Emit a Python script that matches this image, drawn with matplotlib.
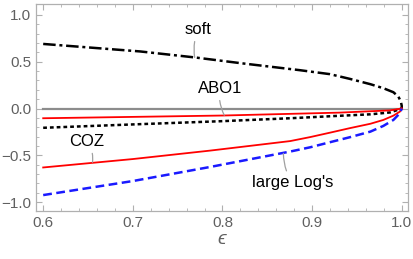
import numpy as np
import matplotlib
matplotlib.use("Agg")
import matplotlib.pyplot as plt

plt.rcParams['font.family'] = ['Liberation Sans', 'DejaVu Sans']

# curves (eps, value)
zero_x = [0.6, 1.0]
zero_y = [0.0, 0.0]

soft_x = [0.6, 0.708, 0.769, 0.819, 0.886, 0.92, 0.942, 0.965, 0.9795, 0.9907, 0.9963, 0.999, 1.0, 1.0]
soft_y = [0.69, 0.61, 0.546, 0.486, 0.41, 0.367, 0.317, 0.26, 0.217, 0.174, 0.127, 0.074, 0.03, 0.0]

dotted_x = [0.6, 0.7, 0.8, 0.8755, 0.93, 0.965, 0.987, 1.0]
dotted_y = [-0.206, -0.17, -0.135, -0.104, -0.078, -0.062, -0.042, 0.0]

abo1_x = [0.6, 0.8, 0.8755, 0.93, 0.987, 1.0]
abo1_y = [-0.104, -0.075, -0.057, -0.044, -0.02, 0.0]

coz_x = [0.6, 0.7, 0.786, 0.83, 0.8755, 0.898, 0.92, 0.942, 0.965, 0.9795, 0.9907, 0.998, 1.0]
coz_y = [-0.63, -0.54, -0.45, -0.40, -0.348, -0.305, -0.258, -0.21, -0.163, -0.122, -0.076, -0.033, 0.0]

logs_x = [0.6, 0.65, 0.7, 0.786, 0.8755, 0.898, 0.92, 0.942, 0.965, 0.9795, 0.9907, 0.998, 1.0]
logs_y = [-0.925, -0.85, -0.775, -0.625, -0.46, -0.414, -0.36, -0.307, -0.247, -0.186, -0.122, -0.05, 0.0]

fig = plt.figure(figsize=(4.14, 2.59), dpi=100)
ax = fig.add_axes([0.087, 0.185, 0.8985, 0.8])

ax.plot(zero_x, zero_y, color='#8c8c8c', lw=1.6)
ax.plot(soft_x, soft_y, color='black', lw=1.8, dashes=(5, 1.5, 1.2, 1.5))
ax.plot(dotted_x, dotted_y, color='black', lw=1.8, dashes=(1.5, 1.2))
ax.plot(abo1_x, abo1_y, color='#ff0000', lw=1.3)
ax.plot(coz_x, coz_y, color='#ff0000', lw=1.3)
ax.plot(logs_x, logs_y, color='#1a1aff', lw=1.8, dashes=(3.5, 1.8))

ax.set_xlim(0.592, 1.007)
ax.set_ylim(-1.096, 1.118)

ax.set_xticks([0.6, 0.7, 0.8, 0.9, 1.0])
ax.set_xticks(np.arange(0.6, 1.0001, 0.02), minor=True)
ax.set_yticks([-1.0, -0.5, 0.0, 0.5, 1.0])
ax.set_yticks(np.arange(-1.0, 1.0001, 0.1), minor=True)
ax.xaxis.set_major_formatter(plt.FuncFormatter(lambda v, p: '%.1f' % v))
ax.yaxis.set_major_formatter(plt.FuncFormatter(lambda v, p: ('%.1f' % v).replace('-', '\u2212')))

frame_col = '#b0b0b0'
for s in ax.spines.values():
    s.set_color(frame_col)
    s.set_linewidth(0.9)
ax.tick_params(which='both', direction='in', top=True, right=True, color=frame_col,
               labelcolor='#606060', labelsize=11)
ax.tick_params(which='major', length=4, width=0.8)
ax.tick_params(which='minor', length=2, width=0.6)

ax.set_xlabel('\u03f5', fontsize=14, color='#606060', style='italic', labelpad=1)

arrow = dict(arrowstyle='-', color='#a0a0a0', lw=0.9, connectionstyle='arc3,rad=0.15',
             shrinkA=1, shrinkB=0)
ax.annotate('soft', xy=(0.769, 0.546), xytext=(0.773, 0.84), fontsize=12,
            ha='center', va='center', arrowprops=arrow)
ax.annotate('ABO1', xy=(0.802, -0.072), xytext=(0.797, 0.21), fontsize=12,
            ha='center', va='center', arrowprops=arrow)
ax.annotate('COZ', xy=(0.655, -0.575), xytext=(0.649, -0.355), fontsize=12,
            ha='center', va='center', arrowprops=dict(arrow, connectionstyle='arc3,rad=-0.2'))
ax.annotate("large Log's", xy=(0.868, -0.48), xytext=(0.878, -0.79), fontsize=12,
            ha='center', va='center', arrowprops=dict(arrow, connectionstyle='arc3,rad=-0.15'))

fig.savefig('out.png', dpi=100)
